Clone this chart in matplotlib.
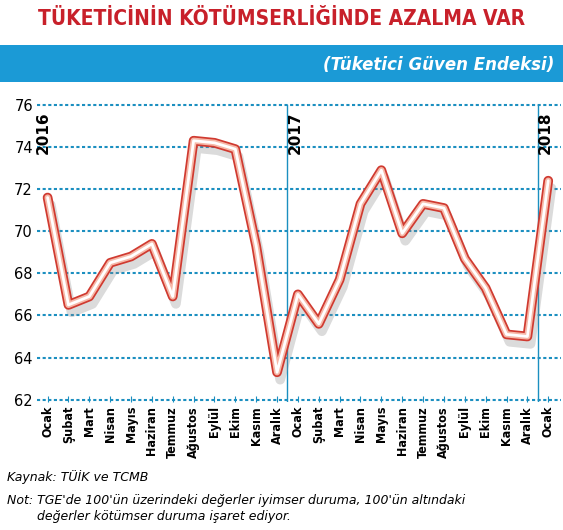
import matplotlib
matplotlib.use("Agg")
import matplotlib.pyplot as plt

months = ["Ocak","Şubat","Mart","Nisan","Mayıs","Haziran","Temmuz","Ağustos","Eylül","Ekim","Kasım","Aralık"]
labels = months + months + ["Ocak"]
values = [71.6,66.5,66.9,68.5,68.8,69.4,66.9,74.3,74.2,73.9,69.3,63.3,
          67.0,65.6,67.7,71.3,72.9,69.9,71.3,71.1,68.7,67.3,65.1,65.0,72.4]
years = ["2016","2017","2018"]

fig = plt.figure(figsize=(5.63,5.30), dpi=100)
fig.text(0.5, 0.965, "TÜKETİCİNİN KÖTÜMSERLİĞİNDE AZALMA VAR", ha="center", va="center",
         color="#c8202a", fontsize=15, fontweight="bold", fontstretch="condensed")
ban = fig.add_axes([0.0, 0.845, 1.0, 0.07])
ban.set_facecolor("#1b9ad6"); ban.set_xticks([]); ban.set_yticks([])
for s in ban.spines.values(): s.set_visible(False)
ban.text(0.985, 0.45, "(Tüketici Güven Endeksi)", ha="right", va="center", color="white",
         fontsize=12, fontweight="bold", style="italic", transform=ban.transAxes)

ax = fig.add_axes([0.066, 0.242, 0.93, 0.564])
x = list(range(len(values)))
ax.set_xlim(-0.5, 24.6)
ax.set_ylim(61.9, 76.1)
for y in range(62, 77, 2):
    ax.axhline(y, color="#1b8fc0", ls=(0,(1.5,1.2)), lw=1.5, zorder=1)
for xv in [11.5, 23.5]:
    ax.axvline(xv, ymax=(76-61.9)/14.2, color="#1b8fc0", lw=1, zorder=1)
for xv, yr in zip([-0.2, 11.85, 23.85], years):
    ax.text(xv, 75.7, yr, rotation=90, va="top", ha="center", fontsize=11, fontweight="bold")
ax.plot([v+0.15 for v in x], [v-0.35 for v in values], color="#888888", lw=7, alpha=0.3,
        zorder=2, solid_joinstyle="round", solid_capstyle="round")
ax.plot(x, values, color="#d03a30", lw=7, zorder=3, solid_joinstyle="round", solid_capstyle="round")
ax.plot(x, values, color="#f6b8a8", lw=4.5, zorder=3, solid_joinstyle="round", solid_capstyle="round")
ax.plot(x, values, color="white", lw=2, zorder=4, solid_joinstyle="round", solid_capstyle="round")
ax.set_xticks(x)
ax.set_xticklabels(labels, rotation=90, fontsize=9, fontweight="bold", fontstretch="condensed")
ax.set_yticks(range(62, 77, 2))
ax.tick_params(axis="y", length=0, labelsize=10.5, pad=3)
ax.tick_params(axis="x", length=4, color="#1b8fc0", direction="in", pad=3)
for s in ax.spines.values(): s.set_visible(False)

fig.text(0.012, 0.1, "Kaynak: TÜİK ve TCMB", fontsize=9, style="italic", va="center")
fig.text(0.012, 0.055, "Not: TGE'de 100'ün üzerindeki değerler iyimser duruma, 100'ün altındaki", fontsize=9, style="italic", va="center")
fig.text(0.065, 0.025, "değerler kötümser duruma işaret ediyor.", fontsize=9, style="italic", va="center")
fig.savefig("out.png", dpi=100)
